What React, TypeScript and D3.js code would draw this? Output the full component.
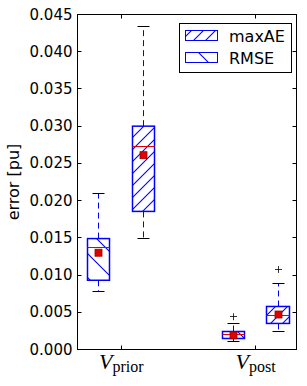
import React from "react";
import * as d3 from "d3";

// ---- data ----
const groupLabels = ["prior", "post"];
const groupPositions = [1, 2];

const rmseWhiskerLow = [0.0078, 0.00108];
const rmseQ1 = [0.0093, 0.00148];
const rmseMedian = [0.0137, 0.00196];
const rmseQ3 = [0.0149, 0.00242];
const rmseWhiskerHigh = [0.0210, 0.0035];
const rmseMean = [0.0130, 0.0019];
const rmseFliers = [[], [0.0044]];

const maxaeWhiskerLow = [0.0149, 0.00242];
const maxaeQ1 = [0.01855, 0.0035];
const maxaeMedian = [0.0273, 0.0046];
const maxaeQ3 = [0.0300, 0.00578];
const maxaeWhiskerHigh = [0.0434, 0.00882];
const maxaeMean = [0.0261, 0.0047];
const maxaeFliers = [[], [0.01075]];

const yTicks = [0, 0.005, 0.01, 0.015, 0.02, 0.025, 0.03, 0.035, 0.04, 0.045];
const legendLabels = ["maxAE", "RMSE"];
const yLabel = "error [pu]";

// ---- layout ----
const W = 307, H = 386;
const L = 77.5, R = 296.5, T = 14.5, B = 349.5;
const x = d3.scaleLinear().domain([0.674, 2.304]).range([L, R]);
const y = d3.scaleLinear().domain([0, 0.045]).range([B, T]);
const offset = 1 / 6;
const boxW = 0.165;
const px = (v: number) => Math.round(v - 0.5) + 0.5;

type Stat = { lo: number; q1: number; med: number; q3: number; hi: number; mean: number; fliers: number[] };

function buildStats(lo: number[], q1: number[], med: number[], q3: number[], hi: number[], mean: number[], fl: number[][]): Stat[] {
  return lo.map((_, i) => ({ lo: lo[i], q1: q1[i], med: med[i], q3: q3[i], hi: hi[i], mean: mean[i], fliers: fl[i] }));
}

const rmseStats = buildStats(rmseWhiskerLow, rmseQ1, rmseMedian, rmseQ3, rmseWhiskerHigh, rmseMean, rmseFliers);
const maxaeStats = buildStats(maxaeWhiskerLow, maxaeQ1, maxaeMedian, maxaeQ3, maxaeWhiskerHigh, maxaeMean, maxaeFliers);

const BLUE = "#0000ff";

function Box({ s, pos, fill }: { s: Stat; pos: number; fill: string }) {
  const x0 = px(x(pos - boxW / 2));
  const x1 = px(x(pos + boxW / 2));
  const cx = px(x(pos));
  const capHalf = 6;
  return (
    <g>
      <line x1={cx} x2={cx} y1={y(s.q3)} y2={y(s.hi)} stroke={BLUE} strokeWidth={1} strokeDasharray="6,4" />
      <line x1={cx} x2={cx} y1={y(s.q1)} y2={y(s.lo)} stroke={BLUE} strokeWidth={1} strokeDasharray="6,4" />
      <line x1={cx - capHalf} x2={cx + capHalf} y1={px(y(s.hi))} y2={px(y(s.hi))} stroke="#000" strokeWidth={1} />
      <line x1={cx - capHalf} x2={cx + capHalf} y1={px(y(s.lo))} y2={px(y(s.lo))} stroke="#000" strokeWidth={1} />
      <rect x={x0} y={y(s.q3)} width={x1 - x0} height={y(s.q1) - y(s.q3)} fill={fill} stroke={BLUE} strokeWidth={1.5} />
      <line x1={x0} x2={x1} y1={px(y(s.med))} y2={px(y(s.med))} stroke="#e00000" strokeWidth={1} />
      <rect x={cx - 3.5} y={y(s.mean) - 3.5} width={7} height={7} fill="#e00000" stroke="#a00000" strokeWidth={0.8} />
      {s.fliers.map((f, i) => (
        <g key={i}>
          <line x1={cx - 3.5} x2={cx + 3.5} y1={px(y(f))} y2={px(y(f))} stroke="#000" strokeWidth={0.8} />
          <line x1={cx} x2={cx} y1={y(f) - 3.5} y2={y(f) + 3.5} stroke="#000" strokeWidth={0.8} />
        </g>
      ))}
    </g>
  );
}

export default function App() {
  const fontTick = "'DejaVu Sans', sans-serif";
  return (
    <svg width={W} height={H} style={{ position: "absolute", left: 0, top: 0, background: "#fff" }}>
      <defs>
        <pattern id="hatchFwd" patternUnits="userSpaceOnUse" width={12} height={12} x={6} y={0}>
          <rect width={12} height={12} fill="#fff" />
          <path d="M-1,1 L1,-1 M0,12 L12,0 M11,13 L13,11" stroke={BLUE} strokeWidth={1.1} />
        </pattern>
        <pattern id="hatchBack" patternUnits="userSpaceOnUse" width={24} height={24} x={0} y={22}>
          <rect width={24} height={24} fill="#fff" />
          <path d="M-1,23 L1,25 M0,0 L24,24 M23,-1 L25,1" stroke={BLUE} strokeWidth={1.1} />
        </pattern>
      </defs>
      <rect x={0} y={0} width={W} height={H} fill="#fff" />

      {groupPositions.map((p, i) => (
        <g key={"g" + i}>
          <Box s={rmseStats[i]} pos={p - offset} fill="url(#hatchBack)" />
          <Box s={maxaeStats[i]} pos={p + offset} fill="url(#hatchFwd)" />
        </g>
      ))}

      {/* axes frame */}
      <rect x={L} y={T} width={R - L} height={B - T} fill="none" stroke="#000" strokeWidth={1} />

      {/* y ticks */}
      {yTicks.map((t) => (
        <g key={"yt" + t}>
          <line x1={L} x2={L + 4} y1={px(y(t))} y2={px(y(t))} stroke="#000" strokeWidth={1} />
          <line x1={R - 4} x2={R} y1={px(y(t))} y2={px(y(t))} stroke="#000" strokeWidth={1} />
          <text x={L - 5} y={y(t) + 5} textAnchor="end" fontFamily={fontTick} fontSize={15} fill="#000">
            {d3.format(".3f")(t)}
          </text>
        </g>
      ))}

      {/* x ticks */}
      {groupPositions.map((p, i) => (
        <g key={"xt" + i}>
          <line x1={px(x(p))} x2={px(x(p))} y1={B} y2={B - 4} stroke="#000" strokeWidth={1} />
          <line x1={px(x(p))} x2={px(x(p))} y1={T} y2={T + 4} stroke="#000" strokeWidth={1} />
          <text x={x(p)} y={369} textAnchor="middle" fontFamily="'Liberation Serif', 'DejaVu Serif', serif" fill="#000">
            <tspan fontStyle="italic" fontSize={22}>V</tspan>
            <tspan fontSize={16} dy={3}>{groupLabels[i]}</tspan>
          </text>
        </g>
      ))}

      {/* y label */}
      <text
        transform={`translate(19,${(T + B) / 2}) rotate(-90)`}
        textAnchor="middle"
        fontFamily={fontTick}
        fontSize={16}
        fill="#000"
      >
        {yLabel}
      </text>

      {/* legend */}
      <g>
        <rect x={179.5} y={23.5} width={112} height={49} fill="#fff" stroke="#000" strokeWidth={1} />
        {legendLabels.map((lab, i) => (
          <g key={lab}>
            <rect
              x={185.5}
              y={30.5 + i * 22}
              width={32}
              height={10}
              fill={i === 0 ? "url(#hatchFwd)" : "url(#hatchBack)"}
              stroke={BLUE}
              strokeWidth={1}
            />
            <text x={229} y={41.5 + i * 22.5} fontFamily={fontTick} fontSize={16} fill="#000">
              {lab}
            </text>
          </g>
        ))}
      </g>
    </svg>
  );
}
